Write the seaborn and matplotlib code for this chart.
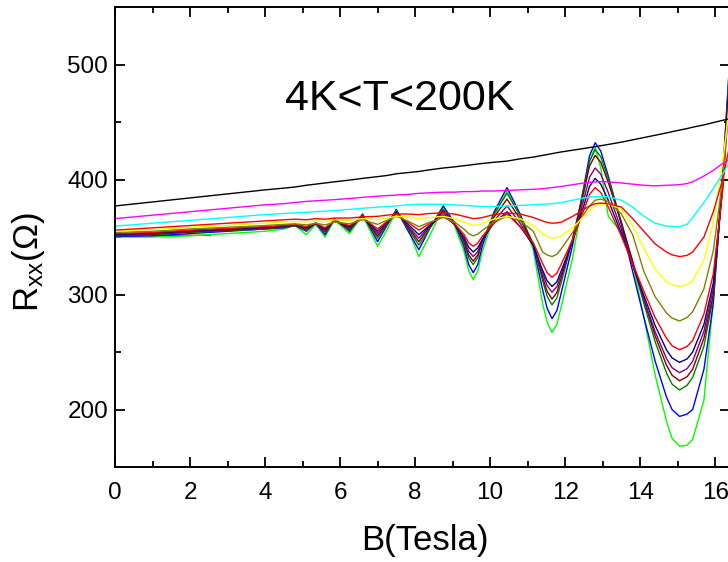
#!/usr/bin/env python3
"""
Rxx vs B, SdH oscillations for 4K < T < 200K
"""

import matplotlib
matplotlib.use("Agg")
import matplotlib.pyplot as plt
import pandas as pd
import seaborn as sns
from matplotlib.ticker import MultipleLocator

sns.set_style("ticks")
plt.rcParams['font.family'] = ['Liberation Sans', 'DejaVu Sans']
plt.rcParams['mathtext.fontset'] = 'custom'
plt.rcParams['mathtext.rm'] = 'Liberation Sans'
plt.rcParams['mathtext.it'] = 'Liberation Sans:italic'
for key in ['text.color', 'axes.labelcolor', 'xtick.color', 'ytick.color', 'axes.edgecolor']:
    plt.rcParams[key] = 'black'

# field grid (Tesla), shared by all curves
B = [0, 1, 2, 3, 4, 4.5, 4.8, 5.1, 5.35, 5.6, 5.85, 6.25, 6.6, 7.0, 7.25, 7.5,
     7.8, 8.1, 8.4, 8.75, 9.05, 9.3, 9.43, 9.55, 9.67, 9.8, 10.1, 10.45, 10.8, 11.15, 11.4,
     11.52, 11.65, 11.78, 11.9, 12.2, 12.5, 12.65, 12.8, 12.95, 13.15, 13.5, 13.8, 14.1, 14.4, 14.7, 14.85, 15.05,
     15.25, 15.4, 15.7, 15.95, 16.2, 16.4]

# Rxx (Ohm), lowest T first
green = [350, 350, 351, 353, 355, 357, 360, 352, 361, 350, 365, 353, 369, 342, 356, 373,
         358, 333, 352, 376, 360, 338, 320.5, 313, 320.5, 338, 368, 390, 368, 339, 292,
         276, 267, 274, 290, 332, 388, 416, 428, 410, 368, 354, 327, 280, 230, 190, 175, 168,
         169, 174, 208, 295, 400, 510]
blue = [350.5, 351, 353, 355, 357, 358, 360, 355, 362, 352, 366, 355, 370, 346, 360, 374,
        356, 339, 358, 377, 362.5, 342, 326, 319, 326, 343, 371.5, 393, 370, 342, 304,
        288, 279, 286, 302, 343, 394, 420.6, 432, 424.7, 403, 361, 320, 280, 242, 211, 200, 194,
        196, 200, 235, 292, 405, 510]
darkgreen = [351, 352, 354, 355.5, 357, 358.5, 360, 356, 362, 354, 365, 356, 369, 349, 361, 373,
             358, 343, 358, 374, 362, 345, 331.7, 326, 332, 346.5, 370, 388, 368.6, 344, 312,
             298.4, 291, 297, 311, 348, 392, 415.8, 426, 419.8, 401, 363, 328, 292, 259, 232, 222, 217,
             221, 228, 255, 298, 400, 505]
wine = [351.5, 352.5, 354.5, 356, 357.5, 359, 360, 357, 362, 355, 365, 357, 368, 351, 361.5, 372,
        359, 346, 359.5, 373, 362, 346.6, 334.3, 329, 334.4, 347, 367, 383, 365.6, 344, 315,
        302.7, 296, 301.7, 315, 348.5, 390, 411.7, 421, 415, 397.5, 362, 329, 295.5, 264, 238.7, 229.8, 225,
        228.5, 235, 262, 300, 398, 500]
purple = [352, 353, 355, 356.5, 358, 359, 360.5, 358, 362, 356, 365, 358, 368, 353, 362, 371,
          360, 349, 360, 371, 361.5, 348, 337.5, 333, 337.4, 347.5, 364, 377, 362, 343, 318.5,
          307.8, 302, 306.8, 318, 347, 383, 402, 410, 404.7, 388.6, 356.6, 326, 296, 267.6, 244.5, 236.4, 232,
          235.5, 242, 268, 305, 395, 495]
navy = [352.5, 353.5, 355.5, 357, 358.5, 359.5, 361, 358, 362, 357, 364, 359, 367, 355, 363, 371,
        361.5, 352, 360.5, 369, 361, 350, 341, 337, 340.5, 348.5, 362, 372, 359, 343, 321,
        312, 307, 311, 321, 346.5, 377.5, 394, 401, 396, 382, 353, 326, 299, 273, 252, 244.9, 241,
        244, 250, 274, 310, 395, 495]
red2 = [353, 354, 356, 357.5, 359, 360, 361, 359, 362, 358, 364, 360, 367, 357, 363.5, 370,
        363, 356, 362, 368, 361.5, 352.4, 345, 342, 344.7, 351, 362, 370, 359, 345, 327,
        319, 315, 318.5, 326.7, 347.8, 373.5, 387, 393, 388.7, 376, 350.7, 326.7, 302.8, 280, 262, 255.5, 252,
        254.8, 260, 283, 318, 390, 485]
olive = [354, 355, 357, 358.5, 360, 361, 361.5, 360.5, 362, 360.5, 363, 361.5, 365, 361, 364.5, 368,
         364, 359, 363, 367, 363, 357, 353, 351, 352.5, 356, 363, 368, 364, 355, 337,
         334.4, 333, 335, 340, 354, 370, 377, 382, 383, 381, 370, 352, 320, 298, 284, 279.5, 277,
         280, 285, 305, 338, 400, 480]
yellow = [355, 356.5, 358.5, 360, 362, 363, 363.5, 363, 364, 363.5, 365, 364.5, 366, 365, 366.5, 368,
          367.5, 366, 367, 368, 366, 363, 361.5, 360, 360.5, 362, 365.5, 368, 366, 360, 353,
          350.5, 349, 349.5, 351, 358, 368, 373, 377, 378.5, 379, 374, 360, 340, 322, 311, 308.5, 307,
          308.5, 312, 330, 362, 415, 470]
red1 = [356, 358, 360, 362, 364, 365, 365.5, 365, 366, 365.5, 366.5, 366.5, 367.5, 368, 369, 370,
        370, 369.5, 370.5, 371, 370, 368, 367, 366, 366.3, 367, 369.5, 371, 370, 367, 364,
        362.7, 362, 362.3, 363, 368, 374, 377, 379, 379.5, 379, 376, 366, 355, 344, 337, 334.5, 333,
        334, 337, 350, 372, 400, 432]
cyan = [359.5, 362, 364.5, 367, 369.5, 370.5, 371, 371.5, 372, 372.5, 373, 374, 375, 376, 376.5, 377,
        378, 378.5, 378.5, 378.5, 378, 377.5, 377.2, 377, 376.8, 376.5, 376.5, 377, 377.5, 378, 378.5,
        378.7, 379, 379.5, 380, 382, 384, 384.7, 385, 385.2, 385, 382, 376, 368, 362, 359.5, 359.2, 359,
        361, 367, 380, 392, 405, 416]
magenta = [366, 369, 372, 375, 378, 379, 380, 381, 381.5, 382, 382.5, 383.5, 384.5, 385.5, 386, 386.5,
           387, 388, 388.5, 389, 389, 389.5, 389.5, 389.5, 389.7, 390, 390, 390.5, 391, 391.5, 392,
           392.5, 393, 393.5, 394, 395.5, 397, 397.5, 398, 398.2, 398, 397, 396, 395, 394.5, 395, 395.2, 395.5,
           396.5, 398, 403, 408, 414, 418]
black = [377, 380.5, 384, 387.5, 391, 392.5, 393.5, 395, 396, 397, 398, 399.5, 401, 402.5, 403.5, 405,
         406, 407, 408.5, 410, 411, 412, 412.5, 413, 413.5, 414, 415, 416, 418, 419.5, 421,
         421.7, 422.5, 423.3, 424, 425.5, 427, 427.8, 428.5, 429.4, 430.5, 432.5, 434.5, 436.5, 438.5, 440.5, 441.6, 443,
         444.3, 445.5, 447.5, 449.5, 451.5, 453]

# short low-field red trace
red3_B = [0, 1, 2, 2.55]
red3 = [351, 351.5, 351.5, 351.5]

curves = {
    "green": (green, "#00FF00"),
    "blue": (blue, "#0000FF"),
    "darkgreen": (darkgreen, "#008000"),
    "wine": (wine, "#800000"),
    "purple": (purple, "#800080"),
    "navy": (navy, "#000080"),
    "red2": (red2, "#FF0000"),
    "olive": (olive, "#808000"),
    "yellow": (yellow, "#FFFF00"),
    "red1": (red1, "#FF0000"),
    "cyan": (cyan, "#00FFFF"),
    "magenta": (magenta, "#FF00FF"),
    "black": (black, "#000000"),
}

frames = [pd.DataFrame({"B": B, "R": vals, "curve": name}) for name, (vals, _) in curves.items()]
frames.insert(0, pd.DataFrame({"B": red3_B, "R": red3, "curve": "red3"}))
df = pd.concat(frames, ignore_index=True)

palette = {name: col for name, (_, col) in curves.items()}
palette["red3"] = "#FF0000"
order = ["red3"] + list(curves.keys())

fig = plt.figure(figsize=(7.28, 5.62), dpi=100)
ax = fig.add_axes([0.158, 0.169, 0.845, 0.8185])

sns.lineplot(data=df, x="B", y="R", hue="curve", hue_order=order, palette=palette,
             estimator=None, sort=False, legend=False, linewidth=1.0, ax=ax)

ax.set_xlim(0, 16.4)
ax.set_ylim(150, 550)
ax.xaxis.set_major_locator(MultipleLocator(2))
ax.xaxis.set_minor_locator(MultipleLocator(1))
ax.yaxis.set_major_locator(MultipleLocator(100))
ax.yaxis.set_minor_locator(MultipleLocator(50))
ax.tick_params(which="both", direction="in", top=True, right=True, width=1.3)
ax.tick_params(which="major", length=7, labelsize=17.5)
ax.tick_params(which="minor", length=4)
ax.tick_params(axis="x", which="major", pad=11)
ax.tick_params(axis="y", which="major", pad=5)
for sp in ax.spines.values():
    sp.set_linewidth(1.4)

ax.set_xlabel("B(Tesla)", fontsize=25)
ax.set_ylabel(r"R$_{\mathrm{xx}}$(Ω)", fontsize=25)
ax.xaxis.set_label_coords(0.504, -0.124)
ax.yaxis.set_label_coords(-0.11, 0.445)

ax.text(0.277, 0.776, "4K<T<200K", transform=ax.transAxes, fontsize=31,
        ha="left", va="baseline")

fig.savefig("out.png", dpi=100)
